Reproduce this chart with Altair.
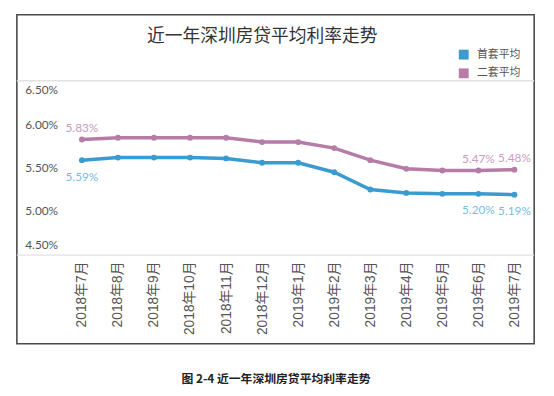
import altair as alt
import pandas as pd

months = ["2018年7月", "2018年8月", "2018年9月", "2018年10月", "2018年11月", "2018年12月",
          "2019年1月", "2019年2月", "2019年3月", "2019年4月", "2019年5月", "2019年6月", "2019年7月"]
first_home = [5.59, 5.62, 5.62, 5.62, 5.61, 5.56, 5.56, 5.45, 5.25, 5.21, 5.20, 5.20, 5.19]
second_home = [5.83, 5.85, 5.85, 5.85, 5.85, 5.80, 5.80, 5.73, 5.59, 5.49, 5.47, 5.47, 5.48]
series_names = ["首套平均", "二套平均"]
series_colors = ["#3a9bd0", "#b67ba7"]
label_colors = ["#78bde2", "#c99bbd"]
labeled_idx = [0, 11, 12]
y_ticks = [4.5, 5.0, 5.5, 6.0, 6.5]
title_text = "近一年深圳房贷平均利率走势"
caption_text = "图 2-4  近一年深圳房贷平均利率走势"

rows = []
for name, vals in zip(series_names, [first_home, second_home]):
    for i, (m, v) in enumerate(zip(months, vals)):
        rows.append({"month": m, "series": name, "value": v, "show": i in labeled_idx})
df = pd.DataFrame(rows)

W, H = 525, 175
cjk = "Noto Sans CJK SC"

x_enc = alt.X("month:N", sort=months, scale=alt.Scale(type="point", range=[66, 505], padding=0),
              axis=alt.Axis(title=None, labelAngle=270, labelPadding=7, ticks=False, domain=False,
                            labelFontSize=14, labelColor="#555555",
                            labelFont="Liberation Sans, Noto Sans CJK SC"))
y_enc = alt.Y("value:Q", scale=alt.Scale(domain=[4.5, 6.5], nice=False, zero=False),
              axis=alt.Axis(title=None, values=y_ticks, labelExpr="format(datum.value, '.2f') + '%'",
                            ticks=False, domain=False, grid=False, labelAlign="left", labelPadding=-8,
                            labelFlush=True, labelFlushOffset=-3, labelFont="Lato", labelFontSize=12,
                            labelColor="#555555"))
color_scale = alt.Scale(domain=series_names, range=series_colors)

base = alt.Chart(df)

lines = base.mark_line(strokeWidth=3.5).encode(
    x=x_enc, y=y_enc,
    color=alt.Color("series:N", scale=color_scale,
                    legend=alt.Legend(title=None, orient="none", legendX=448, legendY=-33,
                                      symbolType="square", symbolSize=100, symbolStrokeWidth=0,
                                      symbolFillColor="#888888",
                                      labelFont=cjk, labelFontSize=11, labelColor="#555555",
                                      rowPadding=7, labelOffset=8)),
    detail="series:N")

points = base.mark_point(filled=True, size=35, opacity=1).encode(
    x=x_enc, y=y_enc,
    color=alt.Color("series:N", scale=color_scale))

lab_first = base.transform_filter(
    (alt.datum.series == series_names[0]) & alt.datum.show
).transform_calculate(label="format(datum.value, '.2f') + '%'").mark_text(
    dy=17, font="Lato", fontSize=12, color=label_colors[0]).encode(x=x_enc, y=y_enc, text="label:N")

lab_second = base.transform_filter(
    (alt.datum.series == series_names[1]) & alt.datum.show
).transform_calculate(label="format(datum.value, '.2f') + '%'").mark_text(
    dy=-12, font="Lato", fontSize=12, color=label_colors[1]).encode(x=x_enc, y=y_enc, text="label:N")

one = alt.Chart(pd.DataFrame({"a": [0]}))
top_line = one.mark_rule(color="#e2e2e2", strokeWidth=1.5).encode(
    x=alt.value(0), x2=alt.value(W), y=alt.value(-1))
bottom_line = one.mark_rule(color="#e2e2e2", strokeWidth=1.5).encode(
    x=alt.value(0), x2=alt.value(W), y=alt.value(H + 1))
border = one.mark_rect(filled=False, stroke="#4a4a4a", strokeWidth=1.6).encode(
    x=alt.value(0), x2=alt.value(W), y=alt.value(-68), y2=alt.value(266))
title = one.mark_text(font=cjk, fontSize=18, color="#333333").encode(
    x=alt.value(249), y=alt.value(-45), text=alt.value(title_text))
caption = one.mark_text(font=cjk, fontSize=12, fontWeight="bold", color="#222222").encode(
    x=alt.value(263), y=alt.value(302), text=alt.value(caption_text))

chart = alt.layer(border, top_line, bottom_line, lines, points, lab_first, lab_second,
                  title, caption).properties(
    width=W, height=H,
    autosize=alt.AutoSizeParams(type="none"),
    padding={"left": 9, "top": 72, "right": 12, "bottom": 131},
).configure(background="white").configure_view(stroke=None)

chart.save("out.html", embed_options={"renderer": "svg", "actions": False})
